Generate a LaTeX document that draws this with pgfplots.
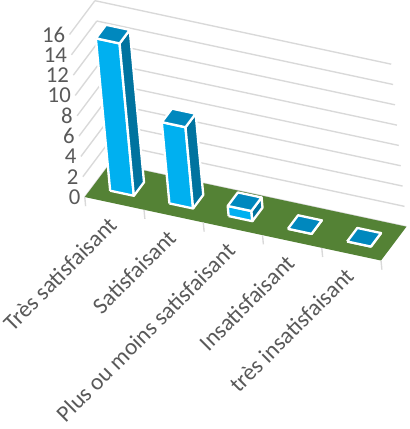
\documentclass[border=0pt]{standalone}
\usepackage{pgfplots}
\usepackage{pgfplotstable}
\pgfplotsset{compat=1.18}
\usepackage{fontspec}
\setmainfont{Carlito}
\definecolor{txt}{HTML}{595959}
\definecolor{gridc}{HTML}{D9D9D9}
\definecolor{floorc}{HTML}{548235}
\definecolor{barfront}{HTML}{00B0F0}
\definecolor{barside}{HTML}{00739F}
\definecolor{bartop}{HTML}{0088BE}
\pgfplotstableread{
x h
0 15
1 8
2 1
3 0
4 0
}\datatable
\begin{document}
\begin{tikzpicture}
\begin{axis}[
  x={(56pt,-12pt)}, y={(24pt,32pt)}, z={(-0.9pt,9.6pt)},
  xmin=-0.5, xmax=4.5, ymin=-0.5, ymax=0.5, zmin=0, zmax=16,
  clip=false,
  axis line style={draw=none},
  xmajorgrids=false, ymajorgrids=false, zmajorgrids=true,
  grid style={gridc, line width=1.3pt},
  ytick=\empty,
  ztick={0,2,...,16},
  xtick={0,...,4},
  xticklabels={Très satisfaisant, Satisfaisant, Plus ou moins satisfaisant, Insatisfaisant, très insatisfaisant},
  major tick length=0pt,
  tick style={draw=none},
  /pgf/number format/assume math mode=true,
  ticklabel style={text=txt},
  xticklabel style={font=\fontsize{22}{25}\selectfont, xshift=-1pt, yshift=-16pt, rotate=45, anchor=east, inner sep=1pt},
  zticklabel style={font=\fontsize{21.5}{24}\selectfont, anchor=east, inner sep=2pt, xshift=-2pt},
  barface/.style={draw=white, line width=2.2pt, line join=round},
]
% floor
\addplot3[fill=floorc, draw=none] coordinates {(-0.5,-0.5,0) (4.5,-0.5,0) (4.5,0.5,0) (-0.5,0.5,0) (-0.5,-0.5,0)};
% category boundary ticks
\addplot3[gridc, line width=1.3pt, unbounded coords=jump] coordinates {
(-0.5,-0.5,0) (-0.5,-0.5,-0.9) (-0.5,-0.5,nan)
(0.5,-0.5,0) (0.5,-0.5,-0.9) (0.5,-0.5,nan)
(1.5,-0.5,0) (1.5,-0.5,-0.9) (1.5,-0.5,nan)
(2.5,-0.5,0) (2.5,-0.5,-0.9) (2.5,-0.5,nan)
(3.5,-0.5,0) (3.5,-0.5,-0.9) (3.5,-0.5,nan)
(4.5,-0.5,0) (4.5,-0.5,-0.9)};
\pgfplotsinvokeforeach{0,...,4}{%
  \pgfplotstablegetelem{#1}{x}\of\datatable \let\cx\pgfplotsretval
  \pgfplotstablegetelem{#1}{h}\of\datatable \let\ch\pgfplotsretval
  \pgfmathsetmacro\xa{\cx-0.2}\pgfmathsetmacro\xb{\cx+0.2}%
  \edef\temp{%
   \noexpand\addplot3[barface, fill=barfront] coordinates {(\xa,-0.2,0) (\xb,-0.2,0) (\xb,-0.2,\ch) (\xa,-0.2,\ch) (\xa,-0.2,0)};
   \noexpand\addplot3[barface, fill=barside] coordinates {(\xb,-0.2,0) (\xb,0.2,0) (\xb,0.2,\ch) (\xb,-0.2,\ch) (\xb,-0.2,0)};
   \noexpand\addplot3[barface, fill=bartop] coordinates {(\xa,-0.2,\ch) (\xb,-0.2,\ch) (\xb,0.2,\ch) (\xa,0.2,\ch) (\xa,-0.2,\ch)};
  }\temp
}
\end{axis}
\path (current bounding box.south) ++(0,-4pt);
\path (current bounding box.east) ++(2pt,0);
\end{tikzpicture}
\end{document}
